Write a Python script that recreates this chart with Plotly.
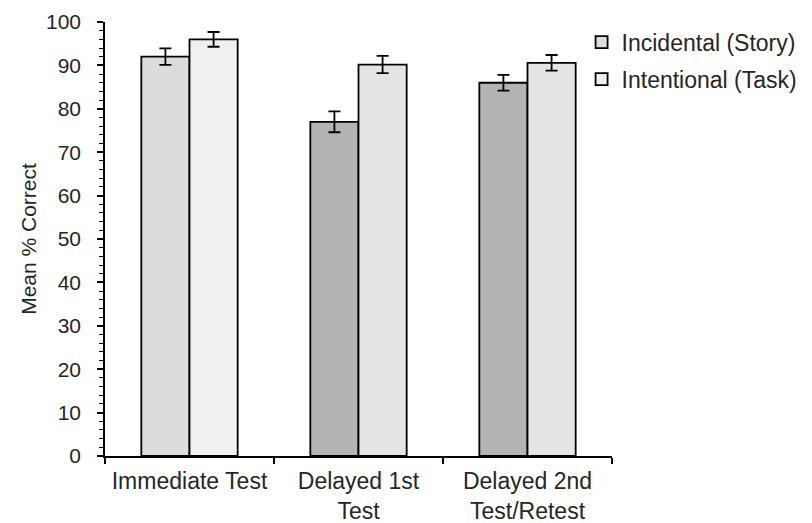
import plotly.graph_objects as go

categories = ["Immediate Test", "Delayed 1st<br>Test", "Delayed 2nd<br>Test/Retest"]
incidental = [92, 77, 86]
incidental_err = [1.9, 2.4, 1.8]
intentional = [96, 90.2, 90.6]
intentional_err = [1.7, 2.0, 1.8]
series_names = ["Incidental (Story)", "Intentional (Task)"]
incidental_colors = ["#dcdcdc", "#b4b4b4", "#b4b4b4"]
intentional_colors = ["#f0f0f0", "#e4e4e4", "#e4e4e4"]

font = "Liberation Sans, Arial, sans-serif"

fig = go.Figure()
fig.add_trace(go.Bar(
    x=categories, y=incidental, name=series_names[0], legendgroup="a",
    marker=dict(color=incidental_colors, line=dict(color="black", width=1.8)),
    error_y=dict(type="data", array=incidental_err, color="black", thickness=1.8, width=6),
))
fig.add_trace(go.Bar(
    x=categories, y=intentional, name=series_names[1], legendgroup="b",
    marker=dict(color=intentional_colors, line=dict(color="black", width=1.8)),
    error_y=dict(type="data", array=intentional_err, color="black", thickness=1.8, width=6),
))

fig.update_layout(
    width=812, height=523,
    margin=dict(l=97, r=208, t=14, b=75, autoexpand=False),
    paper_bgcolor="white", plot_bgcolor="white",
    barmode="group", bargap=0.43, bargroupgap=0,
    font=dict(family=font, size=22, color="#262626"),
    showlegend=True,
    legend=dict(x=0.94, y=1.003, xanchor="left", yanchor="top",
                font=dict(size=23), traceorder="grouped", tracegroupgap=4, itemwidth=30,
                bgcolor="rgba(0,0,0,0)"),
)
fig.update_xaxes(
    showline=True, linecolor="black", linewidth=1.5,
    ticks="outside", tickson="boundaries", ticklen=6, tickcolor="black", tickwidth=1.5,
    showgrid=False, tickfont=dict(size=23), tickangle=0, ticklabelstandoff=4, automargin=False,
)
fig.update_yaxes(
    range=[0, 100], dtick=10, showline=True, linecolor="black", linewidth=1.5,
    ticks="outside", ticklen=6, tickcolor="black", tickwidth=1.5,
    minor=dict(dtick=2, ticks="outside", ticklen=4, tickcolor="black", tickwidth=1),
    showgrid=False, zeroline=False, tickfont=dict(size=21), ticklabelstandoff=12,
    title=dict(text="Mean % Correct", font=dict(size=21), standoff=4),
    automargin=False,
)

fig.write_html("out.html")
